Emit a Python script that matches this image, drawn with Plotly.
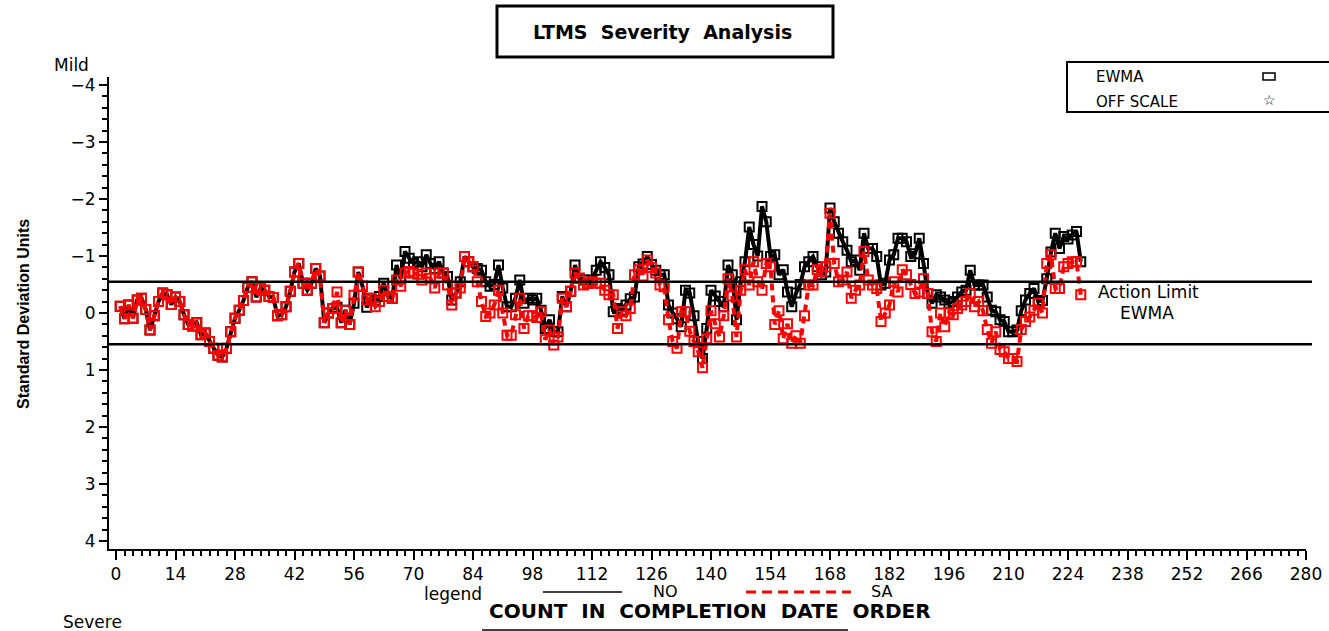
import plotly.graph_objects as go

# ---------------- data ----------------
count = list(range(1, 228))

no_ewma = [
    -0.12, 0.10, -0.14, 0.09, -0.23, -0.26, -0.06, 0.30, 0.05, -0.20,
    -0.35, -0.32, -0.15, -0.28, -0.20, 0.03, 0.20, 0.23, 0.17, 0.38,
    0.35, 0.50, 0.62, 0.74, 0.77, 0.62, 0.33, 0.09, -0.05, -0.22,
    -0.45, -0.55, -0.28, -0.44, -0.40, -0.29, -0.27, 0.05, 0.03, -0.11,
    -0.38, -0.72, -0.87, -0.52, -0.40, -0.52, -0.78, -0.65, 0.17, 0.00,
    -0.08, -0.10, 0.17, -0.05, 0.20, -0.17, -0.72, -0.47, -0.10, -0.26,
    -0.22, -0.29, -0.52, -0.29, -0.26, -0.84, -0.60, -1.08, -0.96, -0.87,
    -0.90, -0.81, -1.02, -0.87, -0.78, -0.90, -0.70, -0.64, -0.23, -0.35,
    -0.55, -0.99, -0.90, -0.81, -0.78, -0.75, -0.55, -0.47, -0.50, -0.84,
    -0.44, -0.11, -0.11, -0.26, -0.58, -0.17, -0.26, -0.23, -0.26, -0.05,
    0.27, 0.12, 0.33, 0.33, -0.29, -0.11, -0.38, -0.84, -0.61, -0.58,
    -0.52, -0.58, -0.75, -0.90, -0.80, -0.67, -0.02, -0.08, -0.05, -0.14,
    -0.25, -0.28, -0.81, -0.86, -0.99, -0.85, -0.75, -0.67, -0.67, -0.14,
    0.00, 0.10, 0.24, -0.40, -0.35, 0.05, 0.50, 0.80, 0.27, -0.40,
    -0.30, -0.20, -0.11, -0.84, -0.67, 0.12, -0.55, -0.90, -1.51, -1.20,
    -1.00, -1.87, -1.60, -0.99, -1.02, -0.67, -0.76, -0.37, -0.11, -0.35,
    -0.50, -0.81, -0.90, -0.99, -0.81, -0.67, -0.72, -1.84, -1.60, -1.40,
    -1.25, -1.10, -0.90, -0.93, -0.75, -1.40, -1.13, -1.13, -0.99, -0.49,
    -0.52, -0.93, -1.02, -1.31, -1.31, -1.25, -0.99, -1.04, -1.31, -0.87,
    -0.34, -0.17, -0.32, -0.28, -0.23, -0.17, -0.20, -0.28, -0.37, -0.40,
    -0.75, -0.49, -0.49, -0.49, -0.28, -0.05, -0.02, 0.12, 0.15, 0.33,
    0.33, 0.30, -0.04, -0.23, -0.34, -0.43, -0.20, -0.22, -0.60, -1.07,
    -1.40, -1.13, -1.34, -1.30, -1.37, -1.43, -0.90,
]

sa_ewma = [
    -0.12, 0.10, -0.14, 0.09, -0.23, -0.26, -0.06, 0.30, 0.05, -0.20,
    -0.35, -0.32, -0.15, -0.28, -0.20, 0.03, 0.20, 0.23, 0.17, 0.38,
    0.35, 0.50, 0.62, 0.74, 0.77, 0.62, 0.33, 0.09, -0.05, -0.22,
    -0.45, -0.55, -0.28, -0.44, -0.40, -0.29, -0.27, 0.05, 0.03, -0.11,
    -0.38, -0.72, -0.87, -0.52, -0.40, -0.52, -0.78, -0.65, 0.17, 0.00,
    -0.08, -0.37, 0.17, -0.05, 0.20, -0.31, -0.72, -0.47, -0.23, -0.26,
    -0.11, -0.20, -0.40, -0.29, -0.26, -0.58, -0.47, -0.70, -0.73, -0.70,
    -0.68, -0.58, -0.70, -0.61, -0.44, -0.70, -0.70, -0.49, -0.14, -0.35,
    -0.44, -0.99, -0.90, -0.81, -0.55, -0.20, 0.06, 0.00, -0.14, -0.40,
    0.00, 0.39, 0.39, 0.03, -0.26, 0.27, 0.05, 0.05, 0.08, -0.02,
    0.47, 0.30, 0.56, 0.42, -0.26, -0.11, -0.38, -0.70, -0.61, -0.49,
    -0.52, -0.55, -0.52, -0.52, -0.40, -0.32, -0.32, 0.27, -0.02, 0.05,
    -0.08, -0.67, -0.76, -0.65, -0.93, -0.80, -0.70, -0.49, -0.46, 0.12,
    0.50, 0.62, -0.02, -0.02, 0.32, 0.50, 0.68, 0.96, 0.45, -0.04,
    0.19, 0.42, 0.05, -0.60, -0.30, 0.42, -0.40, -0.76, -0.49, -0.90,
    -0.55, -0.40, -0.87, -0.81, 0.20, -0.04, 0.45, 0.19, 0.53, 0.40,
    0.53, 0.05, -0.49, -0.49, -0.76, -0.73, -0.81, -1.75, -0.87, -0.55,
    -0.58, -0.72, -0.26, -0.40, -0.49, -1.08, -0.58, -0.49, -0.43, 0.15,
    0.00, -0.14, -0.55, -0.37, -0.76, -0.67, -0.50, -0.34, -0.37, -0.60,
    -0.34, 0.33, 0.50, 0.00, 0.24, 0.00, 0.03, -0.08, -0.14, -0.20,
    -0.34, -0.11, -0.20, -0.04, 0.29, 0.53, 0.33, 0.64, 0.68, 0.80,
    0.80, 0.85, 0.29, 0.15, 0.07, -0.05, -0.17, 0.00, -0.87, -1.02,
    -0.43, -0.43, -0.81, -0.87, -0.90, -0.90, -0.32,
]

action_limits = [-0.55, 0.55]
x_ticks = list(range(0, 281, 14))
y_ticks = [-4, -3, -2, -1, 0, 1, 2, 3, 4]

# ---------------- layout helpers (pixel -> paper) ----------------
W, H = 1329, 631
L, R, T, B = 109, 1306, 77, 549


def px(x):
    return (x - L) / (R - L)


def py(y):
    return (B - y) / (B - T)


FONT = "DejaVu Sans, Verdana, sans-serif"

fig = go.Figure()

fig.add_trace(go.Scatter(
    x=count, y=no_ewma, mode="lines+markers", name="NO",
    line=dict(color="black", width=4),
    marker=dict(symbol="square-open", size=9, color="black", line=dict(width=2, color="black")),
    showlegend=False,
))
fig.add_trace(go.Scatter(
    x=count, y=sa_ewma, mode="lines+markers", name="SA",
    line=dict(color="#ff0000", width=4, dash="7px,5px"),
    marker=dict(symbol="square-open", size=9, color="#ff0000", line=dict(width=2, color="#ff0000")),
    showlegend=False,
))

shapes = []
for lim in action_limits:
    shapes.append(dict(type="line", xref="paper", yref="y", x0=0, x1=px(1312),
                       y0=lim, y1=lim, line=dict(color="black", width=2.5)))

# title box
shapes.append(dict(type="rect", xref="paper", yref="paper",
                   x0=px(497), x1=px(833), y0=py(57), y1=py(6),
                   line=dict(color="black", width=3)))
# top-right legend box
shapes.append(dict(type="rect", xref="paper", yref="paper",
                   x0=px(1067), x1=px(1340), y0=py(112), y1=py(62),
                   line=dict(color="black", width=2)))
# EWMA square symbol
shapes.append(dict(type="rect", xref="paper", yref="paper",
                   x0=px(1263), x1=px(1275), y0=py(80), y1=py(73),
                   line=dict(color="black", width=1.5)))
# bottom legend samples
shapes.append(dict(type="line", xref="paper", yref="paper",
                   x0=px(543), x1=px(622), y0=py(592), y1=py(592),
                   line=dict(color="black", width=1.5)))
shapes.append(dict(type="line", xref="paper", yref="paper",
                   x0=px(746), x1=px(851), y0=py(592), y1=py(592),
                   line=dict(color="#ff0000", width=3, dash="10px,6px")))
# bottom frame line (cut off)
shapes.append(dict(type="line", xref="paper", yref="paper",
                   x0=px(482), x1=px(848), y0=py(630), y1=py(630),
                   line=dict(color="black", width=1.5)))


def ann(text, x, y, size=15, bold=False, xanchor="left", yanchor="middle", angle=0, family=FONT):
    return dict(text=("<b>%s</b>" % text) if bold else text, x=px(x), y=py(y),
                xref="paper", yref="paper", showarrow=False,
                xanchor=xanchor, yanchor=yanchor, textangle=angle,
                font=dict(family=family, size=size, color="black"))


annotations = [
    ann("LTMS  Severity  Analysis", 662, 32, size=19, bold=True, xanchor="center"),
    ann("Mild", 52, 65, size=17),
    ann("Severe", 61, 622, size=17),
    ann("EWMA", 1094, 77, size=15),
    ann("OFF SCALE", 1094, 102, size=15),
    ann("☆", 1269, 100, size=14, xanchor="center"),
    ann("Action Limit", 1148, 292, size=17, xanchor="center"),
    ann("EWMA", 1147, 313, size=17, xanchor="center"),
    ann("legend", 422, 594, size=17),
    ann("NO", 651, 591, size=16),
    ann("SA", 869, 591, size=16),
    ann("COUNT  IN  COMPLETION  DATE  ORDER", 710, 611, size=20, bold=True, xanchor="center"),
    ann("Standard Deviation Units", 23, 314, size=16, bold=True, xanchor="center",
        angle=-90, family="Liberation Sans, Arial, sans-serif"),
]

fig.update_layout(
    width=W, height=H,
    margin=dict(l=L, r=W - R, t=T, b=H - B, pad=0, autoexpand=False),
    paper_bgcolor="white", plot_bgcolor="white",
    showlegend=False,
    shapes=shapes,
    annotations=annotations,
    font=dict(family=FONT, size=17, color="black"),
    xaxis=dict(
        range=[-7 / 4.25, 280], tickmode="array", tickvals=x_ticks,
        ticktext=[str(t) for t in x_ticks], automargin=False,
        showline=True, linecolor="black", linewidth=2,
        ticks="outside", ticklen=9, tickwidth=2, tickcolor="black",
        minor=dict(dtick=2, tick0=0, ticks="outside", ticklen=5, tickwidth=1.5, tickcolor="black"),
        showgrid=False, zeroline=False,
        tickfont=dict(family=FONT, size=17),
    ),
    yaxis=dict(
        range=[4.14, -4.14], tickmode="array", tickvals=y_ticks,
        ticktext=[("\u2212%d" % -t) if t < 0 else str(t) for t in y_ticks], automargin=False,
        showline=True, linecolor="black", linewidth=2,
        ticks="outside", ticklen=8, tickwidth=2, tickcolor="black",
        minor=dict(dtick=0.2, tick0=0, ticks="outside", ticklen=5, tickwidth=1.5, tickcolor="black"),
        showgrid=False, zeroline=False,
        tickfont=dict(family=FONT, size=17),
    ),
)

fig.write_html("out.html")
